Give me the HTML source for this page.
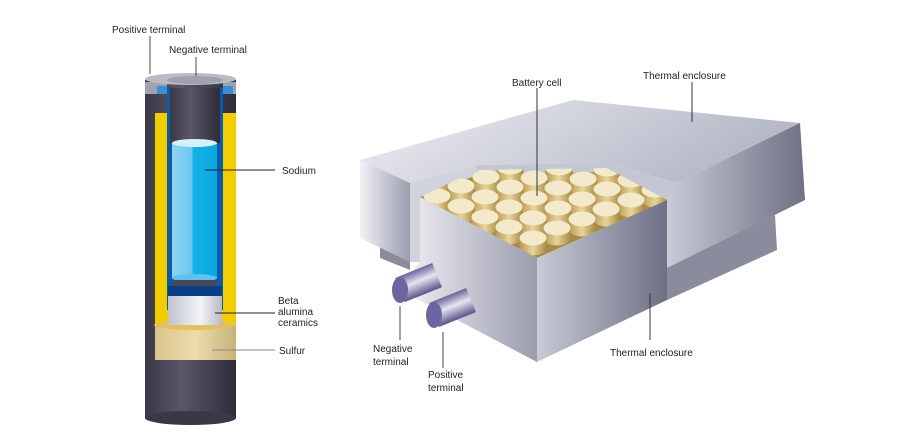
<!DOCTYPE html>
<html><head><meta charset="utf-8"><style>
html,body{margin:0;padding:0;background:#fff;}
svg{display:block;}
text{font-family:"Liberation Sans",sans-serif;font-size:10px;fill:#222;}
</style></head><body>
<svg width="900" height="438" viewBox="0 0 900 438" xmlns="http://www.w3.org/2000/svg">
<defs>
<linearGradient id="cyl" x1="0" x2="1"><stop offset="0" stop-color="#3a3846"/><stop offset="0.4" stop-color="#5a5868"/><stop offset="1" stop-color="#2e2c38"/></linearGradient>
<linearGradient id="blu" x1="0" x2="1"><stop offset="0" stop-color="#8fd4f2"/><stop offset="0.45" stop-color="#6cc6ef"/><stop offset="0.46" stop-color="#14b2e8"/><stop offset="1" stop-color="#0aa6e0"/></linearGradient>
<linearGradient id="wht" x1="0" x2="1"><stop offset="0" stop-color="#bfc2cc"/><stop offset="0.6" stop-color="#f4f4f7"/><stop offset="1" stop-color="#b8bbc6"/></linearGradient>
<linearGradient id="sul" x1="0" x2="1"><stop offset="0" stop-color="#d9c48c"/><stop offset="0.5" stop-color="#ecdcaa"/><stop offset="1" stop-color="#c9b17a"/></linearGradient>
<linearGradient id="top" x1="0" y1="0" x2="1" y2="0.3"><stop offset="0" stop-color="#eeeff4"/><stop offset="1" stop-color="#b4b7c6"/></linearGradient>
<linearGradient id="side" x1="0" x2="1"><stop offset="0" stop-color="#f2f2f6"/><stop offset="1" stop-color="#9a9cad"/></linearGradient>
<linearGradient id="side2" x1="0" x2="1"><stop offset="0" stop-color="#c8cad6"/><stop offset="1" stop-color="#6e7084"/></linearGradient>
<linearGradient id="term" x1="0" y1="0" x2="0" y2="1"><stop offset="0" stop-color="#6a6498"/><stop offset="0.45" stop-color="#e6e4f0"/><stop offset="1" stop-color="#5a548a"/></linearGradient>
<linearGradient id="gold" x1="0" x2="1"><stop offset="0" stop-color="#b89a50"/><stop offset="0.5" stop-color="#e8d49a"/><stop offset="1" stop-color="#a88a44"/></linearGradient>
<clipPath id="tf"><polygon points="420,197 477,170 607,168 667,200 537,258"/></clipPath>
<g id="c"><rect x="-13.5" y="0" width="27" height="10" fill="url(#gold)"/><ellipse cy="10" rx="13.5" ry="7.5" fill="url(#gold)"/><ellipse rx="13.5" ry="7.5" fill="#f3e9cb"/></g>
</defs>

<!-- left cell -->
<rect x="145" y="80" width="91" height="338" fill="url(#cyl)"/>
<ellipse cx="190.5" cy="418" rx="45.5" ry="7" fill="#3a3846"/>
<rect x="155" y="113" width="81" height="212" fill="#f2cd00"/>
<rect x="155" y="325" width="81" height="35" fill="url(#sul)"/>
<ellipse cx="195" cy="325" rx="41" ry="5" fill="#e0c060"/>
<rect x="167" y="88" width="56" height="222" fill="#0d5aa8"/>
<rect x="170" y="88" width="50" height="55" fill="url(#cyl)"/>
<rect x="172" y="143" width="45" height="135" fill="url(#blu)"/>
<ellipse cx="194.5" cy="143" rx="22.5" ry="4" fill="#d6f0fb"/>
<ellipse cx="194.5" cy="278" rx="22.5" ry="4" fill="#5ac3ee"/>
<rect x="172" y="280" width="45" height="6" fill="#4a4858"/>
<rect x="168" y="286" width="54" height="10" fill="#0a3e86"/>
<rect x="168" y="296" width="54" height="29" fill="url(#wht)"/>
<rect x="145" y="82" width="22" height="12" fill="#9fa3ad"/>
<rect x="223" y="82" width="13" height="12" fill="#9fa3ad"/>
<rect x="157" y="86" width="10" height="8" fill="#3a8fd8"/>
<rect x="223" y="86" width="10" height="8" fill="#3a8fd8"/>
<ellipse cx="190.5" cy="79" rx="45.5" ry="6" fill="#b8bcc4"/>
<ellipse cx="195" cy="80" rx="28" ry="4" fill="#9ea2ac"/>
<line x1="150" y1="36" x2="150" y2="74" stroke="#444" stroke-width="1"/>
<line x1="196" y1="57" x2="196" y2="76" stroke="#444" stroke-width="1"/>
<line x1="205" y1="170" x2="275" y2="170" stroke="#222" stroke-width="1"/>
<line x1="215" y1="313" x2="275" y2="313" stroke="#222" stroke-width="1"/>
<line x1="212" y1="350" x2="275" y2="350" stroke="#888" stroke-width="1"/>
<text x="112" y="33">Positive terminal</text>
<text x="169" y="53">Negative terminal</text>
<text x="282" y="174">Sodium</text>
<text x="278" y="304">Beta</text>
<text x="278" y="315">alumina</text>
<text x="278" y="326">ceramics</text>
<text x="279" y="354">Sulfur</text>

<!-- right box -->
<polygon points="380,230 410,244 410,270 380,258" fill="#8a8c9c"/>
<polygon points="667,265 775,215 777,250 667,300" fill="#8a8c9e"/>
<polygon points="360,160 410,183 410,262 360,238" fill="url(#side)"/>
<polygon points="360,160 573,100 800,123 677,183 607,163 477,165 410,183" fill="url(#top)"/>
<polygon points="667,188 677,183 800,123 805,200 667,268" fill="url(#side2)"/>
<polygon points="410,183 477,165 477,175 420,197 420,262 410,262" fill="#d0d2dc"/>
<polygon points="477,165 607,163 677,183 667,200 607,172 477,175" fill="#c4c6d2"/>
<polygon points="420,197 477,175 607,172 667,200 537,258" fill="#a88a44"/>
<g clip-path="url(#tf)">
<use href="#c" x="510" y="167"/><use href="#c" x="559" y="168"/><use href="#c" x="607" y="169"/>
<use href="#c" x="437" y="176"/><use href="#c" x="486" y="177"/><use href="#c" x="534" y="178"/><use href="#c" x="583" y="179"/><use href="#c" x="631" y="180"/>
<use href="#c" x="461" y="186"/><use href="#c" x="510" y="187"/><use href="#c" x="558" y="188"/><use href="#c" x="607" y="189"/><use href="#c" x="655" y="190"/>
<use href="#c" x="437" y="196"/><use href="#c" x="485" y="197"/><use href="#c" x="534" y="198"/><use href="#c" x="582" y="199"/><use href="#c" x="631" y="200"/>
<use href="#c" x="461" y="206"/><use href="#c" x="509" y="207"/><use href="#c" x="558" y="208"/><use href="#c" x="606" y="209"/>
<use href="#c" x="485" y="217"/><use href="#c" x="533" y="218"/><use href="#c" x="582" y="219"/>
<use href="#c" x="509" y="227"/><use href="#c" x="557" y="228"/>
<use href="#c" x="533" y="238"/>
</g>
<polygon points="420,197 537,258 537,362 400,290 400,285 420,262" fill="url(#side)"/>
<polygon points="537,258 667,200 667,300 537,362" fill="url(#side2)"/>
<!-- terminals -->
<rect x="400" y="277" width="40" height="26" fill="url(#term)" transform="rotate(-22 400 290)"/>
<ellipse cx="400" cy="290" rx="8" ry="13" fill="#6c66a0"/>
<rect x="434" y="302" width="40" height="26" fill="url(#term)" transform="rotate(-22 434 315)"/>
<ellipse cx="434" cy="315" rx="8" ry="13" fill="#6c66a0"/>
<line x1="400" y1="306" x2="400" y2="340" stroke="#444"/>
<line x1="443" y1="332" x2="443" y2="368" stroke="#444"/>
<line x1="537" y1="88" x2="537" y2="196" stroke="#333"/>
<line x1="692" y1="82" x2="692" y2="122" stroke="#333"/>
<line x1="650" y1="293" x2="650" y2="340" stroke="#333"/>
<text x="512" y="86">Battery cell</text>
<text x="643" y="79">Thermal enclosure</text>
<text x="610" y="356">Thermal enclosure</text>
<text x="373" y="352">Negative</text>
<text x="373" y="365">terminal</text>
<text x="428" y="378">Positive</text>
<text x="428" y="391">terminal</text>
</svg>
</body></html>
